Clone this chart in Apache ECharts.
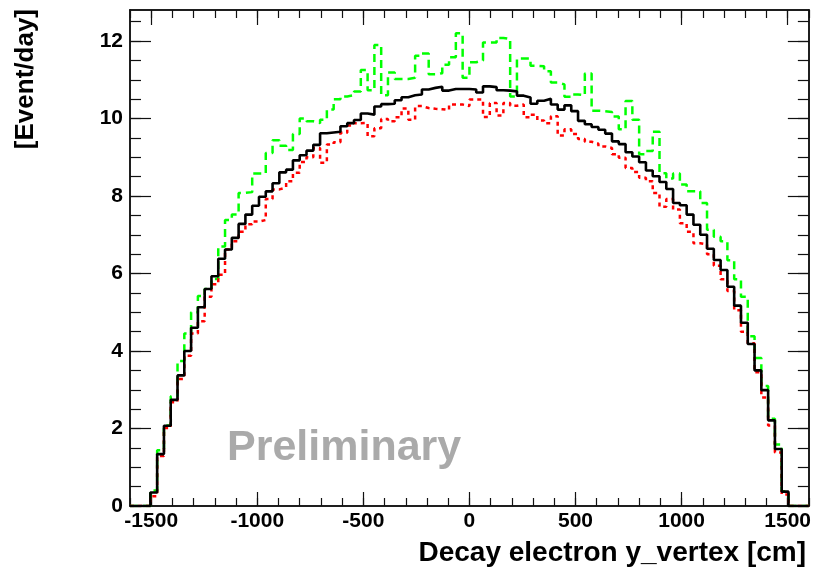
<!DOCTYPE html>
<html>
<head>
<meta charset="utf-8">
<script src="https://cdn.jsdelivr.net/npm/echarts@6/dist/echarts.min.js"></script>
<style>html,body{margin:0;padding:0;background:#fff}#c{width:814px;height:570px}</style>
</head>
<body>
<div id="c"></div>
<script>
// Histogram binning (100 bins of 32 cm from -1600 to 1600)
const binLow = -1600;
const binWidth = 32;

// Series values per bin (Event/day)
const blackVals = [0,0,0,0.35,1.34,2.07,2.74,3.37,4.0,4.6,
  5.13,5.6,5.93,6.38,6.62,6.92,7.28,7.52,7.75,7.98,
  8.12,8.33,8.61,8.68,8.92,9.05,9.17,9.32,9.62,9.64,
  9.66,9.8,9.88,9.96,10.13,10.1,10.31,10.37,10.38,10.47,
  10.55,10.6,10.62,10.75,10.79,10.82,10.72,10.76,10.76,10.76,
  10.75,10.67,10.83,10.81,10.73,10.72,10.70,10.59,10.54,10.38,
  10.46,10.51,10.36,10.23,10.34,10.19,9.94,9.85,9.78,9.71,
  9.61,9.41,9.34,9.13,9.02,8.87,8.66,8.51,8.36,8.18,
  7.82,7.76,7.52,7.26,7.0,6.64,6.35,6.09,5.66,5.17,
  4.73,4.18,3.5,2.99,2.21,1.47,0.37,0,0,0];

const greenVals = [0,0,0,0.4,1.44,2.08,2.83,3.74,4.45,5.0,
  5.42,5.6,5.86,6.7,7.38,7.52,8.08,8.1,8.58,8.58,
  9.11,9.44,9.3,9.19,9.6,10.0,9.93,9.88,9.97,10.23,
  10.5,10.57,10.6,10.7,11.25,10.73,11.9,10.6,11.19,11.02,
  11.02,11.05,11.62,11.68,11.14,11.17,11.39,11.58,12.2,11.05,
  11.45,11.5,11.96,11.96,12.08,12.05,10.57,11.55,11.55,11.36,
  11.35,11.22,10.93,10.88,10.56,10.62,10.6,11.16,10.2,10.19,
  10.17,10.05,9.72,10.45,9.97,9.08,9.16,9.66,8.59,8.45,
  8.58,8.3,8.12,8.12,7.82,7.13,6.95,6.83,6.34,5.85,
  5.4,4.38,3.82,3.1,2.25,1.59,0.38,0,0,0];

const redVals = [0,0,0,0.25,1.29,2.01,2.68,3.28,3.88,4.45,
  4.77,5.4,5.72,5.97,6.62,6.83,7.08,7.27,7.34,7.38,
  7.92,8.17,8.22,8.38,8.6,8.88,9.0,9.24,8.86,9.33,
  9.39,9.63,9.82,9.88,9.89,9.54,9.75,9.99,9.93,10.03,
  10.26,9.97,10.32,10.27,10.25,10.24,10.22,10.36,10.36,10.32,
  10.49,10.49,10.04,10.4,10.08,10.4,10.33,10.36,10.03,10.1,
  9.95,9.88,10.06,9.56,9.72,9.6,9.47,9.4,9.35,9.28,
  9.24,9.08,8.99,8.72,8.62,8.47,8.38,8.08,7.72,7.92,
  7.65,7.3,7.08,6.78,6.75,6.5,6.2,5.85,5.55,5.05,
  4.5,4.2,3.45,2.8,2.08,1.38,0.3,0,0,0];

// Axis ticks
const xMajorTicks = [-1500,-1000,-500,0,500,1000,1500];
const xMinorTicks = [-1600,-1500,-1400,-1300,-1200,-1100,-1000,-900,-800,-700,-600,-500,-400,-300,-200,-100,0,
  100,200,300,400,500,600,700,800,900,1000,1100,1200,1300,1400,1500,1600];
const yMajorTicks = [0,2,4,6,8,10,12];
const yMinorTicks = [0,0.5,1,1.5,2,2.5,3,3.5,4,4.5,5,5.5,6,6.5,7,7.5,8,8.5,9,9.5,10,10.5,11,11.5,12,12.5];

const xMin = -1600, xMax = 1600, yMin = 0, yMax = 12.8;

function histData(vals) {
  const d = [];
  for (let i = 0; i < vals.length; i++) d.push([binLow + i * binWidth, vals[i]]);
  d.push([binLow + vals.length * binWidth, vals[vals.length - 1]]);
  return d;
}

const FONT = 'Liberation Sans';
const axisCol = '#111';

function xAx(pos, ticks, len, labels) {
  return {
    type: 'value', position: pos, min: xMin, max: xMax,
    axisLine: { show: true, onZero: false, lineStyle: { color: axisCol, width: 1.5 } },
    axisTick: { show: true, inside: true, length: len, customValues: ticks, lineStyle: { color: axisCol, width: 1.2 } },
    axisLabel: labels ? { show: true, customValues: xMajorTicks, formatter: v => String(v), color: '#000', fontFamily: FONT, fontWeight: 'bold', fontSize: 21, margin: 5 } : { show: false },
    splitLine: { show: false }
  };
}
function yAx(pos, ticks, len, labels) {
  return {
    type: 'value', position: pos, min: yMin, max: yMax,
    axisLine: { show: true, onZero: false, lineStyle: { color: axisCol, width: 1.5 } },
    axisTick: { show: true, inside: true, length: len, customValues: ticks, lineStyle: { color: axisCol, width: 1.2 } },
    axisLabel: labels ? { show: true, customValues: yMajorTicks, formatter: v => String(v), color: '#000', fontFamily: FONT, fontWeight: 'bold', fontSize: 21, margin: 7 } : { show: false },
    splitLine: { show: false }
  };
}

const chart = echarts.init(document.getElementById('c'), null, { renderer: 'canvas' });
chart.setOption({
  animation: false,
  backgroundColor: '#fff',
  grid: { left: 130, right: 4, top: 10, bottom: 64 },
  xAxis: [
    xAx('bottom', xMajorTicks, 14, true),
    xAx('bottom', xMinorTicks, 8, false),
    xAx('top', xMajorTicks, 15, false),
    xAx('top', xMinorTicks, 8, false)
  ],
  yAxis: [
    yAx('left', yMajorTicks, 21, true),
    yAx('left', yMinorTicks, 11, false),
    yAx('right', yMajorTicks, 21, false),
    yAx('right', yMinorTicks, 11, false)
  ],
  series: [
    { name: 'green', type: 'line', step: 'end', symbol: 'none', data: histData(greenVals),
      lineStyle: { color: '#00ff00', width: 2.5, type: [8, 5] }, z: 2 },
    { name: 'red', type: 'line', step: 'end', symbol: 'none', data: histData(redVals),
      lineStyle: { color: '#ff0000', width: 2.5, type: [4, 4] }, z: 3 },
    { name: 'black', type: 'line', step: 'end', symbol: 'none', data: histData(blackVals),
      lineStyle: { color: '#000', width: 2.6 }, z: 4 }
  ],
  graphic: [
    { type: 'text', x: 227, y: 448, silent: true,
      style: { text: 'Preliminary', fill: '#aaaaaa', font: 'bold 43px "Liberation Sans"', textVerticalAlign: 'middle', textAlign: 'left' } },
    { type: 'text', x: 806, y: 553, silent: true,
      style: { text: 'Decay electron y_vertex [cm]', fill: '#000', font: 'bold 28px "Liberation Sans"', textVerticalAlign: 'middle', textAlign: 'right' } },
    { type: 'text', x: 26, y: 9, rotation: Math.PI / 2, silent: true,
      style: { text: '[Event/day]', fill: '#000', font: 'bold 26px "Liberation Sans"', textVerticalAlign: 'middle', textAlign: 'right' } }
  ]
});
</script>
</body>
</html>
